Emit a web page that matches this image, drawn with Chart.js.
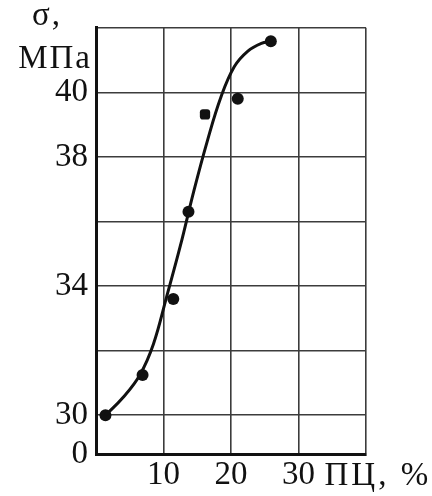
<!DOCTYPE html>
<html>
<head>
<meta charset="utf-8">
<script src="https://cdn.jsdelivr.net/npm/chart.js@4/dist/chart.umd.min.js"></script>
<style>
  html, body { margin: 0; padding: 0; background: #fff; }
  #wrap { width: 432px; height: 496px; position: relative; }
</style>
</head>
<body>
<div id="wrap"><canvas id="chart"></canvas></div>
<script>
// Measured tensile strength vs. ПЦ content
const pcContent = [1.4, 6.9, 11.45, 13.7, 16.15, 21.0, 25.9];
const strength  = [30.0, 31.25, 33.6, 36.3, 39.32, 39.8, 41.58];

// Fitted trend curve
const curveX = [1.4, 4.0, 6.5, 8.5, 10.5, 12.5, 14.5, 16.5, 18.5, 20.5, 22.5, 24.5, 25.9];
const curveY = [30.0, 30.55, 31.25, 32.2, 33.7, 35.25, 36.95, 38.5, 39.85, 40.8, 41.28, 41.52, 41.58];

// Axis ticks (the y axis is broken: its origin reads 0)
const xTickValues = [0, 10, 20, 30, 40];
const xTickLabels = ['', '10', '20', '30', ''];
const yTickValues = [28.8, 30, 32, 34, 36, 38, 40, 42];
const yTickLabels = ['0', '30', '', '34', '', '38', '40', ''];

const yTitleTop = 'σ,';
const yTitleUnit = 'МПа';
const xTitle = 'ПЦ, %';

const FONT = '"Liberation Serif", "Times New Roman", serif';
const FONT_SIZE = 33;

const markerStyles = ['circle', 'circle', 'circle', 'circle', 'rectRounded', 'circle', 'circle'];

const axisTexts = {
  id: 'axisTexts',
  afterDraw(chart) {
    const { ctx, chartArea, scales } = chart;
    ctx.save();
    ctx.fillStyle = '#111';
    ctx.font = `${FONT_SIZE}px ${FONT}`;
    ctx.letterSpacing = '2px';
    // y axis title, above the tick labels
    ctx.textAlign = 'left';
    ctx.textBaseline = 'alphabetic';
    ctx.fillText(yTitleTop, 32, 25);
    ctx.textAlign = 'right';
    ctx.fillText(yTitleUnit, 92, 68);
    // x axis title, following the last numbered tick
    ctx.textAlign = 'left';
    ctx.textBaseline = 'middle';
    ctx.letterSpacing = '3px';
    const x30 = scales.x.getPixelForValue(30);
    ctx.fillText(xTitle, x30 + 26, chartArea.bottom + 3 + FONT_SIZE * 1.2 / 2);
    ctx.restore();
  }
};

new Chart(document.getElementById('chart'), {
  type: 'scatter',
  data: {
    datasets: [
      {
        type: 'line',
        data: curveX.map((x, i) => ({ x, y: curveY[i] })),
        borderColor: '#111',
        borderWidth: 3,
        pointRadius: 0,
        tension: 0.4,
        fill: false
      },
      {
        data: pcContent.map((x, i) => ({ x, y: strength[i] })),
        backgroundColor: '#111',
        borderColor: '#111',
        borderWidth: 0,
        pointRadius: 6,
        pointStyle: markerStyles
      }
    ]
  },
  options: {
    responsive: true,
    maintainAspectRatio: false,
    animation: false,
    layout: { padding: { left: 0, right: 66, top: 23, bottom: 0 } },
    plugins: { legend: { display: false }, tooltip: { enabled: false } },
    scales: {
      x: {
        type: 'linear',
        min: 0,
        max: 40,
        afterBuildTicks: s => { s.ticks = xTickValues.map(v => ({ value: v })); },
        afterFit: s => { s.height = 42; },
        ticks: {
          padding: 2,
          color: '#111',
          font: { family: FONT, size: FONT_SIZE },
          maxRotation: 0,
          autoSkip: false,
          callback: (v) => xTickLabels[xTickValues.indexOf(v)] ?? ''
        },
        grid: { color: '#3c3c3c', lineWidth: 1.6, drawTicks: false },
        border: { color: '#111', width: 3 }
      },
      y: {
        type: 'linear',
        min: yTickValues[0],
        max: 42,
        afterBuildTicks: s => { s.ticks = yTickValues.map(v => ({ value: v })); },
        afterFit: s => { s.width = 96; },
        ticks: {
          padding: 8,
          color: '#111',
          font: { family: FONT, size: FONT_SIZE },
          autoSkip: false,
          callback: (v) => yTickLabels[yTickValues.indexOf(v)] ?? ''
        },
        grid: { color: '#3c3c3c', lineWidth: 1.6, drawTicks: false },
        border: { color: '#111', width: 3 }
      }
    }
  },
  plugins: [axisTexts]
});
</script>
</body>
</html>
